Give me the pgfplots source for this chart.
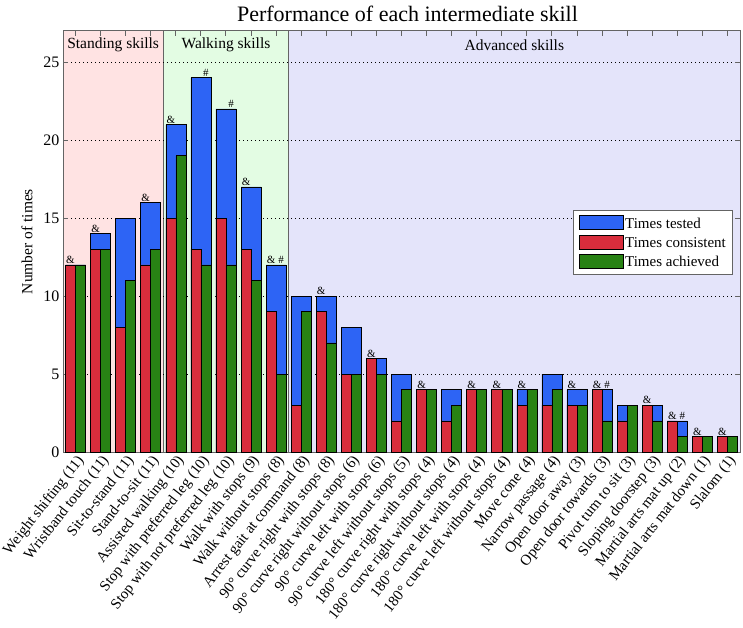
\documentclass[border=0pt]{standalone}
\usepackage{pgfplots}
\pgfplotsset{compat=1.18}
\usepackage{pgfplotstable}
\usepackage{fontspec}
\setmainfont{Liberation Serif}
\definecolor{cblue}{RGB}{45,100,245}
\definecolor{cred}{RGB}{216,45,60}
\definecolor{cgreen}{RGB}{40,130,20}
\definecolor{bgpink}{RGB}{255,227,227}
\definecolor{bggreen}{RGB}{227,252,227}
\definecolor{bglav}{RGB}{228,228,250}
\definecolor{axgray}{RGB}{100,100,100}
\pgfplotstableread{
x tested consistent achieved
1 12 12 12
2 14 13 13
3 15 8 11
4 16 12 13
5 21 15 19
6 24 13 12
7 22 15 12
8 17 13 11
9 12 9 5
10 10 3 9
11 10 9 7
12 8 5 5
13 6 6 5
14 5 2 4
15 4 4 4
16 4 2 3
17 4 4 4
18 4 4 4
19 4 3 4
20 5 3 4
21 4 3 3
22 4 4 2
23 3 2 3
24 3 3 2
25 2 2 1
26 1 1 1
27 1 1 1
}\skilldata
\pgfplotsset{
  mybar/.style={ybar, draw=black, line width=0.6pt,
    legend image code/.code={\draw[##1, draw=black, line width=0.6pt] (0pt,-6pt) rectangle (44pt,8pt);}},
}
\begin{document}
\begin{tikzpicture}
\begin{axis}[
  name=ax,
  set layers,
  scale only axis,
  width=677pt, height=421pt,
  xmin=0.5, xmax=27.5,
  ymin=0, ymax=27,
  ytick={0,5,10,15,20,25},
  xtick={1,...,27},
  xticklabels={Weight shifting (11),Wristband touch (11),Sit-to-stand (11),Stand-to-sit (11),Assisted walking (10),Stop with preferred leg (10),Stop with not preferred leg (10),Walk with stops (9),Walk without stops (8),Arrest gait at command (8),90° curve right with stops (8),90° curve right without stops (6),90° curve left with stops (6),90° curve left without stops (5),180° curve right with stops (4),180° curve right without stops (4),180° curve left with stops (4),180° curve left without stops (4),Move cone (4),Narrow passage (4),Open door away (3),Open door towards (3),Pivot turn to sit (3),Sloping doorstep (3),Martial arts mat up (2),Martial arts mat down (1),Slalom (1)},
  xticklabel style={rotate=52, anchor=north east, font=\fontsize{15}{16}\selectfont, inner sep=1pt},
  yticklabel style={font=\fontsize{16}{18}\selectfont},
  /pgf/number format/assume math mode=true,
  tick align=inside,
  major tick length=5pt,
  xtick pos=both, ytick pos=both,
  axis line style={axgray, line width=1pt},
  tick style={axgray, line width=1pt},
  ymajorgrids,
  major grid style={black, line width=0.8pt, dash pattern=on 0.8pt off 3.2pt},
  ylabel={Number of times},
  ylabel style={font=\fontsize{15.5}{17}\selectfont, yshift=4pt},
  title={Performance of each intermediate skill},
  title style={font=\fontsize{22}{24}\selectfont, xshift=6pt},
  legend style={at={(0.99,0.575)}, anchor=north east, draw=axgray, line width=0.8pt,
    font=\fontsize{15}{16}\selectfont, row sep=3pt, inner sep=5pt, cells={anchor=west}},
  legend cell align=left,
]
\begin{pgfonlayer}{axis background}
\fill[bgpink] (axis cs:0.5,0) rectangle (axis cs:4.5,27);
\fill[bggreen] (axis cs:4.5,0) rectangle (axis cs:9.5,27);
\fill[bglav] (axis cs:9.5,0) rectangle (axis cs:27.5,27);
\draw[axgray, line width=1pt] (axis cs:4.5,0) -- (axis cs:4.5,27);
\draw[axgray, line width=1pt] (axis cs:9.5,0) -- (axis cs:9.5,27);
\end{pgfonlayer}
\addplot[mybar, fill=cblue, bar width=0.8, bar shift=0] table[x=x, y=tested] {\skilldata};
\addlegendentry{Times tested}
\addplot[mybar, fill=cred, bar width=0.4, bar shift=-0.2] table[x=x, y=consistent] {\skilldata};
\addlegendentry{Times consistent}
\addplot[mybar, fill=cgreen, bar width=0.4, bar shift=0.2] table[x=x, y=achieved] {\skilldata};
\addlegendentry{Times achieved}
\node[font=\fontsize{15.5}{17}\selectfont] at (axis cs:2.5,26.1) {Standing skills};
\node[font=\fontsize{15.5}{17}\selectfont] at (axis cs:7,26.1) {Walking skills};
\node[font=\fontsize{15.5}{17}\selectfont] at (axis cs:18.5,26.1) {Advanced skills};
\foreach \xx/\yy in {1/12,2/14,4/16,5/21,8/17,9/12,11/10,13/6,15/4,17/4,18/4,19/4,21/4,22/4,24/3,25/2,26/1,27/1}{
  \edef\tmp{\noexpand\node[font=\noexpand\fontsize{11}{12}\noexpand\selectfont, anchor=south, inner sep=1pt] at (axis cs:\xx-0.2,\yy) {\noexpand\&};}\tmp
}
\foreach \xx/\yy in {6/24,7/22,9/12,22/4,25/2}{
  \edef\tmp{\noexpand\node[font=\noexpand\fontsize{11}{12}\noexpand\selectfont, anchor=south, inner sep=1pt] at (axis cs:\xx+0.2,\yy) {\noexpand\#};}\tmp
}
\end{axis}
\pgfresetboundingbox
\path ([xshift=-63pt,yshift=-175pt]ax.south west) rectangle ([xshift=3pt,yshift=31pt]ax.north east);
\end{tikzpicture}
\end{document}
